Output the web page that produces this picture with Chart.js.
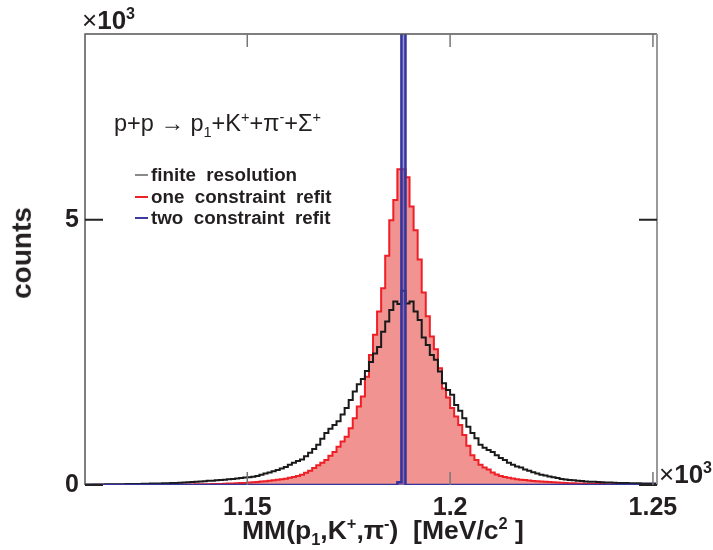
<!DOCTYPE html>
<html lang="en">
<head>
<meta charset="UTF-8" />
<title>MM(p1,K+,pi-) histogram</title>
<script src="https://cdn.jsdelivr.net/npm/chart.js"></script>
<style>
  body { margin: 0; background: #fff; }
  #wrap { position: relative; width: 713px; height: 550px; font-family: "Liberation Sans", Arial, sans-serif; color: #231f20; }
  #wrap canvas { position: absolute; left: 0; top: 0; }
  .txt { position: absolute; line-height: 1; white-space: pre; }
  .txt sup, .txt sub { font-size: 62%; line-height: 0; }
  .mark { position: absolute; height: 2px; width: 13px; }
</style>
</head>
<body>
<div id="wrap">
  <canvas id="grafica" width="713" height="550"></canvas>
  <div class="txt" style="left:82px;top:7px;font-size:26px;"><span>×</span><b>10</b><sup><b>3</b></sup></div>
  <div class="txt" style="left:659px;top:461px;font-size:26px;"><span>×</span><b>10</b><sup><b>3</b></sup></div>
  <div class="txt" style="left:114px;top:112px;font-size:23.5px;">p+p → p<sub>1</sub>+K<sup>+</sup>+π<sup>-</sup>+Σ<sup>+</sup></div>
  <div class="mark" style="left:135px;top:174px;background:#8a8a8a;"></div>
  <div class="txt" style="left:151px;top:166px;font-size:18.8px;font-weight:bold;">finite  resolution</div>
  <div class="mark" style="left:135px;top:196px;background:#ee2222;"></div>
  <div class="txt" style="left:151px;top:188px;font-size:18.8px;font-weight:bold;">one  constraint  refit</div>
  <div class="mark" style="left:135px;top:217px;background:#3c3ca0;"></div>
  <div class="txt" style="left:151px;top:209px;font-size:18.8px;font-weight:bold;">two  constraint  refit</div>
  <div class="txt" style="left:242px;top:517px;font-size:26.5px;font-weight:bold;">MM(p<sub>1</sub>,K<sup>+</sup>,π<sup>-</sup>)  [MeV/c<sup>2</sup> ]</div>
  <div class="txt" style="left:-24px;top:239px;font-size:28px;font-weight:bold;transform:rotate(-90deg);">counts</div>
</div>

<script>
// bins of 1 MeV (0.001 x10^3), first bin starts at 1.110
const binStart = 1.110;
const binWidth = 0.001;
const xMin = 1.110;
const xMax = 1.251;
const yMax = 8500;

const xTicks = [1.15, 1.2, 1.25];
const xTickLabels = ['1.15', '1.2', '1.25'];
const yTicks = [0, 5000];
const yTickLabels = ['0', '5'];

// finite resolution (black)
const finiteRes = [
  8, 8, 9, 10, 10, 11, 12, 13, 14, 15,
  16, 17, 18, 19, 21, 22, 24, 26, 28, 30,
  32, 34, 37, 40, 44, 48, 52, 56, 61, 66,
  72, 78, 82, 88, 95, 100, 108, 115, 122, 130,
  140, 145, 155, 170, 195, 215, 235, 260, 285, 310,
  340, 380, 420, 450, 480, 540, 610, 680, 760, 870,
  980, 1060, 1130, 1200, 1330, 1450, 1600, 1760, 1900, 2000,
  2150, 2320, 2480, 2600, 2890, 3080, 3300, 3460, 3410, 3660,
  3420, 3460, 3270, 3110, 2780, 2640, 2450, 2360, 2140, 1920,
  1790, 1700, 1510, 1400, 1260, 1100, 980, 880, 760, 700,
  660, 620, 560, 510, 470, 420, 380, 350, 330, 290,
  270, 240, 215, 195, 180, 160, 145, 130, 115, 105,
  95, 88, 80, 74, 68, 63, 59, 55, 51, 48,
  45, 43, 40, 38, 36, 34, 33, 31, 30, 28, 27
];

// one constraint refit (red, filled)
const oneRefit = [
  2, 2, 2, 3, 3, 3, 3, 4, 4, 4,
  4, 4, 4, 4, 5, 5, 5, 5, 5, 5,
  6, 6, 7, 8, 8, 9, 10, 11, 12, 13,
  14, 15, 17, 19, 21, 23, 26, 29, 32, 36,
  40, 46, 52, 58, 65, 72, 80, 90, 100, 110,
  120, 135, 150, 170, 195, 230, 270, 320, 370, 420,
  470, 550, 620, 720, 820, 910, 1070, 1260, 1480, 1670,
  2040, 2450, 2830, 3270, 3710, 4320, 4990, 5370, 5950, 5950,
  5800, 5250, 4800, 4250, 3630, 3180, 2800, 2560, 2200, 1820,
  1650, 1450, 1290, 1130, 940, 740, 560, 470, 380, 330,
  290, 235, 200, 170, 150, 135, 122, 110, 100, 92,
  84, 76, 70, 65, 60, 55, 50, 45, 41, 37,
  34, 32, 30, 27, 25, 23, 21, 19, 17, 16,
  14, 13, 12, 11, 10, 9, 8, 7, 6, 6, 5
];

// two constraint refit (blue): everything in the Sigma+ mass bin
const twoRefit = [
  0, 0, 0, 0, 0, 0, 0, 0, 0, 0,
  0, 0, 0, 0, 0, 0, 0, 0, 0, 0,
  0, 0, 0, 0, 0, 0, 0, 0, 0, 0,
  0, 0, 0, 0, 0, 0, 0, 0, 0, 0,
  0, 0, 0, 0, 0, 0, 0, 0, 0, 0,
  0, 0, 0, 0, 0, 0, 0, 0, 0, 0,
  0, 0, 0, 0, 0, 0, 0, 0, 0, 0,
  0, 0, 0, 0, 0, 0, 0, 0, 50, 30000,
  0, 0, 0, 0, 0, 0, 0, 0, 0, 0,
  0, 0, 0, 0, 0, 0, 0, 0, 0, 0,
  0, 0, 0, 0, 0, 0, 0, 0, 0, 0,
  0, 0, 0, 0, 0, 0, 0, 0, 0, 0,
  0, 0, 0, 0, 0, 0, 0, 0, 0, 0,
  0, 0, 0, 0, 0, 0, 0, 0, 0, 0, 0
];

// histogram -> stepped points at bin edges
function histoPoints(counts) {
  const pts = counts.map((c, i) => ({ x: binStart + i * binWidth, y: c }));
  pts.push({ x: binStart + counts.length * binWidth, y: counts[counts.length - 1] });
  return pts;
}

// frame with inward ticks, ROOT style
const framePlugin = {
  id: 'frame',
  afterDatasetsDraw(chart) {
    const { ctx, chartArea: a, scales } = chart;
    ctx.save();
    ctx.lineWidth = 1.5;
    ctx.strokeStyle = '#555';
    ctx.beginPath();
    ctx.moveTo(a.left, a.bottom);
    ctx.lineTo(a.left, a.top);
    ctx.lineTo(a.right, a.top);
    ctx.stroke();
    ctx.lineWidth = 2;
    ctx.strokeStyle = '#999';
    ctx.beginPath();
    ctx.moveTo(a.right, a.top);
    ctx.lineTo(a.right, a.bottom);
    ctx.stroke();

    ctx.lineWidth = 2;
    ctx.strokeStyle = '#222';
    yTicks.forEach(v => {
      const y = scales.y.getPixelForValue(v);
      ctx.beginPath();
      ctx.moveTo(a.left, y); ctx.lineTo(a.left + 18, y);
      ctx.moveTo(a.right, y); ctx.lineTo(a.right - 18, y);
      ctx.stroke();
    });
    ctx.lineWidth = 1.5;
    ctx.strokeStyle = '#777';
    xTicks.forEach(v => {
      const x = scales.x.getPixelForValue(v);
      ctx.beginPath();
      ctx.moveTo(x, a.bottom); ctx.lineTo(x, a.bottom - 13);
      ctx.moveTo(x, a.top); ctx.lineTo(x, a.top + 13);
      ctx.stroke();
    });
    ctx.restore();
  }
};

const tickFont = { family: '"Liberation Sans", Arial, sans-serif', size: 25, weight: 'bold' };

new Chart(document.getElementById('grafica').getContext('2d'), {
  type: 'line',
  data: {
    datasets: [
      {
        label: 'two constraint refit',
        data: histoPoints(twoRefit),
        stepped: 'after',
        borderColor: '#34349a',
        borderWidth: 2.5,
        backgroundColor: 'rgba(70, 70, 190, 0.55)',
        fill: 'origin',
        pointRadius: 0,
        order: 0
      },
      {
        label: 'finite resolution',
        data: histoPoints(finiteRes),
        stepped: 'after',
        borderColor: '#1a1a1a',
        borderWidth: 2,
        fill: false,
        pointRadius: 0,
        order: 1
      },
      {
        label: 'one constraint refit',
        data: histoPoints(oneRefit),
        stepped: 'after',
        borderColor: '#ee1f26',
        borderWidth: 2,
        backgroundColor: 'rgba(236, 120, 118, 0.8)',
        fill: 'origin',
        pointRadius: 0,
        order: 2
      }
    ]
  },
  options: {
    responsive: false,
    animation: false,
    layout: { padding: { top: 34, right: 56, left: 0, bottom: 0 } },
    plugins: { legend: { display: false }, tooltip: { enabled: false } },
    scales: {
      x: {
        type: 'linear',
        min: xMin,
        max: xMax,
        grid: { display: false, drawTicks: false },
        border: { display: false },
        afterBuildTicks: s => { s.ticks = xTicks.map(v => ({ value: v })); },
        afterFit: s => { s.height = 65; },
        ticks: {
          padding: 8,
          maxRotation: 0,
          color: '#231f20',
          font: tickFont,
          callback: v => xTickLabels[xTicks.indexOf(v)]
        }
      },
      y: {
        min: 0,
        max: yMax,
        grid: { display: false, drawTicks: false },
        border: { display: false },
        afterBuildTicks: s => { s.ticks = yTicks.map(v => ({ value: v })); },
        afterFit: s => { s.width = 85; },
        ticks: {
          padding: 6,
          color: '#231f20',
          font: tickFont,
          callback: v => yTickLabels[yTicks.indexOf(v)]
        }
      }
    }
  },
  plugins: [framePlugin]
});
</script>
</body>
</html>
